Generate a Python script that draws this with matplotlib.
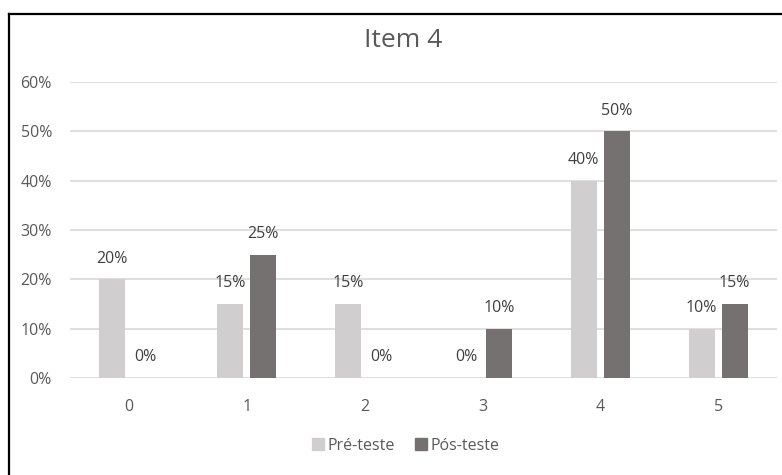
import matplotlib
matplotlib.use("Agg")
import matplotlib.pyplot as plt
import numpy as np
from matplotlib.lines import Line2D

plt.rcParams['font.family'] = ['Open Sans', 'DejaVu Sans']

categories = ['0', '1', '2', '3', '4', '5']
pre_teste = [20, 15, 15, 0, 40, 10]
pos_teste = [0, 25, 0, 10, 50, 15]
y_ticks = [0, 10, 20, 30, 40, 50, 60]
series_names = ['Pré-teste', 'Pós-teste']
title = 'Item 4'

W, H = 782, 475
fig = plt.figure(figsize=(W / 100, H / 100), dpi=100)
fig.patch.set_facecolor('white')

# axes in pixel coords
left, right = 70, 777
bottom, top = 378, 82
ax = fig.add_axes([left / W, 1 - bottom / H, (right - left) / W, (bottom - top) / H])

x = np.arange(len(categories))
bw = 0.22
off = 0.14
c_pre = '#D0CECE'
c_pos = '#767171'
ax.bar(x - off, pre_teste, bw, color=c_pre, zorder=3)
ax.bar(x + off, pos_teste, bw, color=c_pos, zorder=3)

fs = 11.5
for xi, v in zip(x, pre_teste):
    ax.text(xi - off, v + 2.6, f'{v}%', ha='center', va='bottom', fontsize=fs, color='#404040')
for xi, v in zip(x, pos_teste):
    ax.text(xi + off, v + 2.6, f'{v}%', ha='center', va='bottom', fontsize=fs, color='#404040')

ax.set_xlim(-0.5, len(categories) - 0.5)
ax.set_ylim(0, 60)
ax.set_yticks(y_ticks)
ax.set_yticklabels([f'{t}%' for t in y_ticks])
ax.set_xticks(x)
ax.set_xticklabels(categories)
ax.grid(axis='y', color='#D9D9D9', linewidth=1.2, zorder=0)
for s in ax.spines.values():
    s.set_visible(False)
ax.tick_params(length=0, labelsize=fs, colors='#595959')
ax.tick_params(axis='y', pad=13)
ax.tick_params(axis='x', pad=15)

fig.text(403 / W, 1 - 47 / H, title, ha='center', va='baseline', fontsize=19, color='#595959')

handles = [Line2D([], [], marker='s', linestyle='none', markersize=8, color=c_pre),
           Line2D([], [], marker='s', linestyle='none', markersize=8, color=c_pos)]
fig.legend(handles, series_names, loc='center', bbox_to_anchor=(406 / W, 1 - 446 / H),
           ncol=2, frameon=False, fontsize=fs, labelcolor='#595959',
           handletextpad=0.25, columnspacing=1.25, handlelength=0.7,
           borderpad=0, borderaxespad=0)

# partial outer border (left and top visible)
fig.add_artist(Line2D([9 / W, 9 / W], [0, 1 - 14 / H], transform=fig.transFigure, color='black', linewidth=1.6))
fig.add_artist(Line2D([9 / W, 1.0], [1 - 14 / H, 1 - 14 / H], transform=fig.transFigure, color='black', linewidth=1.6))

fig.savefig('out.png', dpi=100)
